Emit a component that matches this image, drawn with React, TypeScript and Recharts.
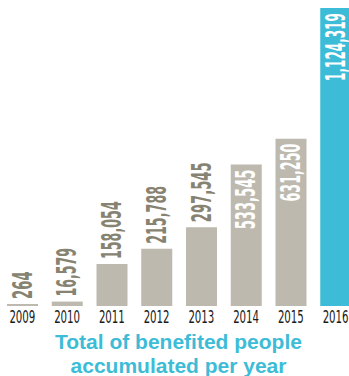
import React from 'react';
import { BarChart, Bar, XAxis, YAxis, Cell, LabelList } from 'recharts';

const years = ['2009', '2010', '2011', '2012', '2013', '2014', '2015', '2016'];
const beneficiaries = [264, 16579, 158054, 215788, 297545, 533545, 631250, 1124319];

const GREY = '#bdb9ae';
const CYAN = '#3dbcd7';
const LABEL_GREY = '#878372';
const NARROW = "'Liberation Sans Narrow', 'DejaVu Sans Condensed', 'Liberation Sans', sans-serif";

const data = years.map((year, i) => ({ year, value: beneficiaries[i] }));

const fmt = (v: number) => v.toLocaleString('en-US');

// condensed look: squeeze the text to a fixed length per glyph
const squeeze = (s: string, digit: number, comma: number) =>
  s.split('').reduce((acc, ch) => acc + (ch === ',' ? comma : ch === '1' ? digit * 0.8 : digit), 0);

const ValueLabel = (props: any) => {
  const { x, y, width, value } = props;
  const text = fmt(value);
  const inside = value > 500000;
  const cx = x + width / 2 + 9;
  const ty = inside ? y + 5 : y - 5;
  return (
    <text
      transform={`translate(${cx},${ty}) rotate(-90)`}
      textAnchor={inside ? 'end' : 'start'}
      fill={inside ? '#ffffff' : LABEL_GREY}
      fontFamily={NARROW}
      fontWeight="bold"
      fontSize={27}
      textLength={squeeze(text, 9.2, 4.5)}
      lengthAdjust="spacingAndGlyphs"
    >
      {text}
    </text>
  );
};

const YearTick = (props: any) => {
  const { x, y, payload } = props;
  return (
    <text
      x={x}
      y={y + 17}
      textAnchor="middle"
      fill="#1a1a1a"
      fontFamily={NARROW}
      fontSize={17}
      textLength={26}
      lengthAdjust="spacingAndGlyphs"
    >
      {payload.value}
    </text>
  );
};

export default function App() {
  return (
    <div
      style={{
        position: 'absolute',
        left: 0,
        top: 0,
        width: 349,
        height: 376,
        overflow: 'hidden',
        background: '#ffffff',
      }}
    >
      <BarChart width={358} height={335} data={data} margin={{ top: 8, right: 0, left: 0, bottom: 0 }}>
        <XAxis
          dataKey="year"
          axisLine={false}
          tickLine={false}
          tickSize={0}
          tickMargin={0}
          height={29}
          interval={0}
          tick={<YearTick />}
        />
        <YAxis hide domain={[0, 'dataMax']} />
        <Bar dataKey="value" barSize={31} minPointSize={2} isAnimationActive={false}>
          {data.map((d, i) => (
            <Cell key={d.year} fill={i === data.length - 1 ? CYAN : GREY} />
          ))}
          <LabelList dataKey="value" content={<ValueLabel />} />
        </Bar>
      </BarChart>
      <div
        style={{
          position: 'absolute',
          left: 0,
          top: 330,
          width: 357,
          textAlign: 'center',
          fontFamily: "'Liberation Sans', Arial, sans-serif",
          fontWeight: 'bold',
          fontSize: 21,
          lineHeight: '24px',
          color: CYAN,
        }}
      >
        Total of benefited people
        <br />
        accumulated per year
      </div>
    </div>
  );
}
